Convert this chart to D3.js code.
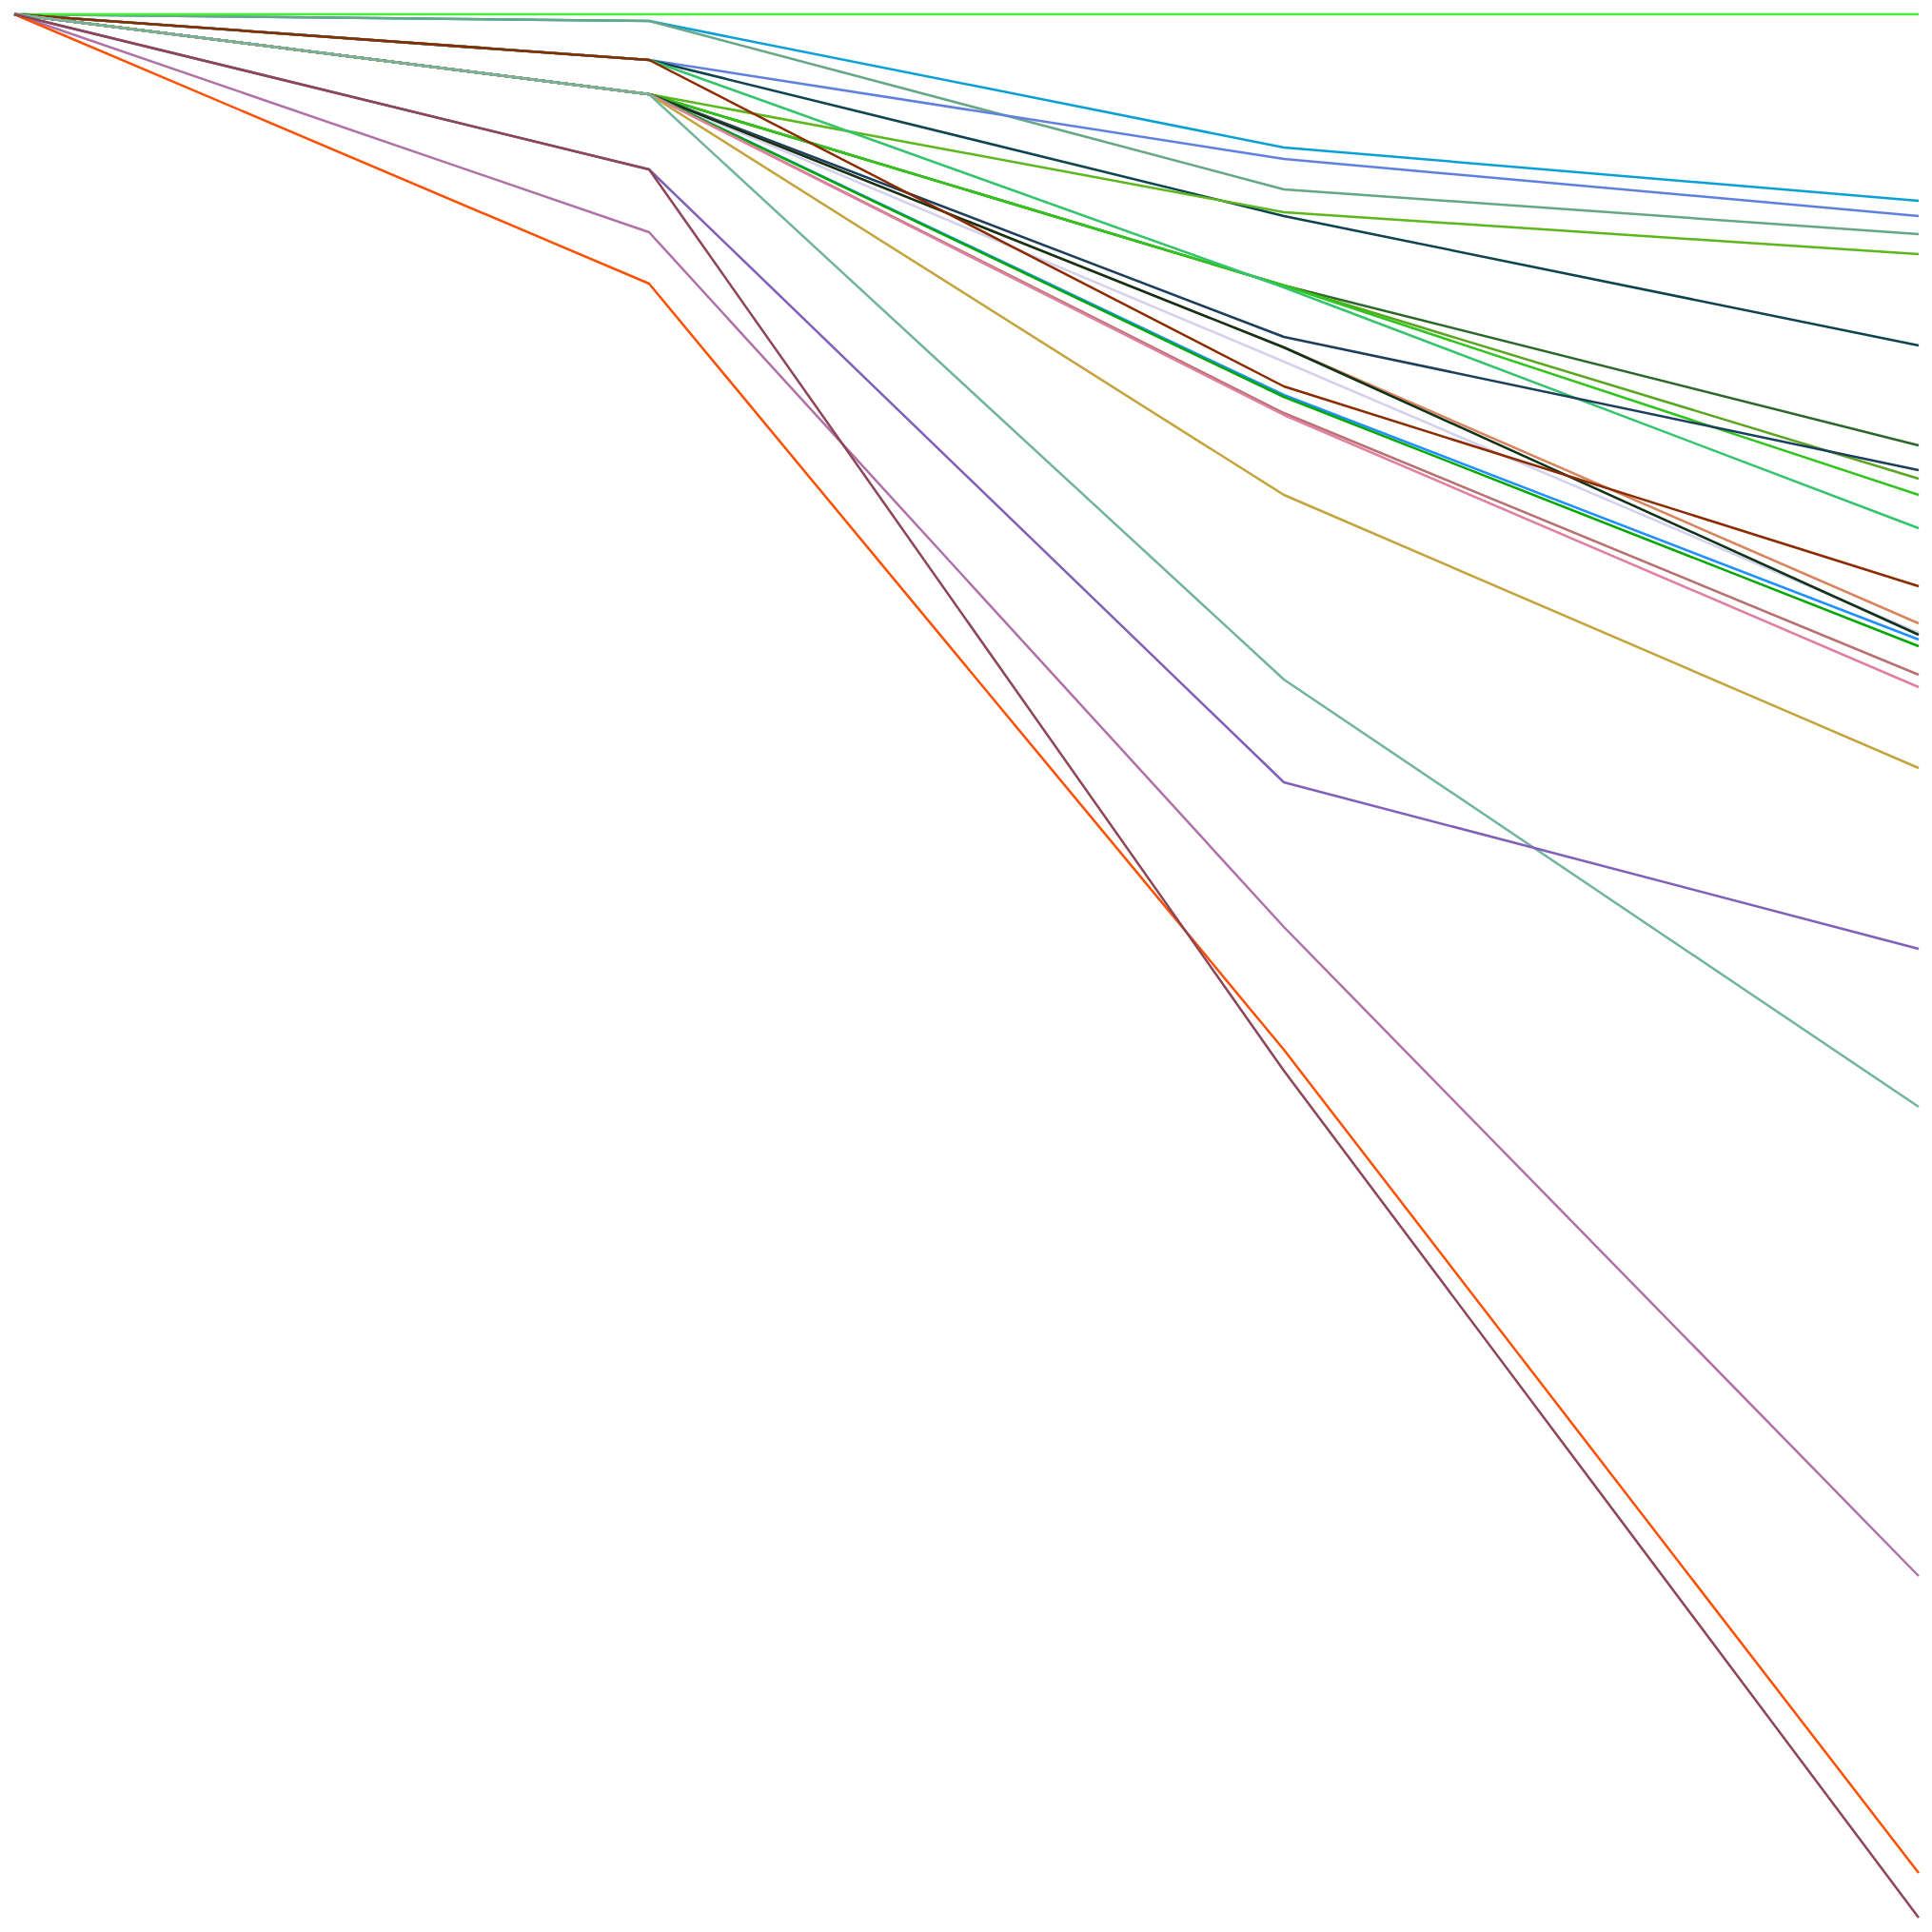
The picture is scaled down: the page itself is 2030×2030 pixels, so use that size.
<!DOCTYPE html>
<html>
<head>
<meta charset="utf-8">
<script src="https://cdn.jsdelivr.net/npm/d3@7"></script>
<style>
  html, body { margin: 0; padding: 0; background: #ffffff; }
  svg { display: block; }
</style>
</head>
<body>
<div id="chart"></div>
<script>
// Steps (x positions)
const steps = [0, 1, 2, 3];

// Series names, drawn in this order (later = on top)
const seriesNames = [
  "cyan", "seaGreen", "green", "royalBlue", "darkTeal", "yellowGreen",
  "darkGreen", "olive", "green2", "medSeaGreen", "darkSlate",
  "lavender", "sienna", "black", "darkRed", "dodger", "green3",
  "rosy", "pink", "goldenrod", "aquamarine", "purple", "orchid",
  "orangeRed", "maroon"
];

// Values per series (percent change), one per step
const cyan        = [0, -0.35, -7.0, -9.8];
const seaGreen    = [0, -0.35, -9.2, -11.55];
const green       = [0, 0, 0, 0];
const royalBlue   = [0, -2.4, -7.6, -10.6];
const darkTeal    = [0, -2.4, -10.6, -17.4];
const yellowGreen = [0, -4.2, -10.4, -12.6];
const darkGreen   = [0, -4.2, -14.25, -22.65];
const olive       = [0, -4.2, -14.25, -24.4];
const green2      = [0, -4.2, -14.25, -25.25];
const medSeaGreen = [0, -2.4, -14.35, -27.0];
const darkSlate   = [0, -4.2, -16.95, -23.95];
const lavender    = [0, -4.2, -18.25, -32.5];
const sienna      = [0, -4.2, -17.5, -32.0];
const black       = [0, -4.2, -17.5, -32.6];
const darkRed     = [0, -2.4, -19.55, -30.05];
const dodger      = [0, -4.2, -20.0, -32.85];
const green3      = [0, -4.2, -20.1, -33.2];
const rosy        = [0, -4.2, -20.95, -34.7];
const pink        = [0, -4.2, -21.05, -35.35];
const goldenrod   = [0, -4.2, -25.25, -39.6];
const aquamarine  = [0, -4.2, -34.95, -57.4];
const purple      = [0, -8.15, -40.35, -49.1];
const orchid      = [0, -11.45, -47.95, -82.05];
const orangeRed   = [0, -14.15, -54.4, -97.65];
const maroon      = [0, -8.15, -55.5, -100];

const seriesValues = {
  cyan, seaGreen, green, royalBlue, darkTeal, yellowGreen, darkGreen, olive,
  green2, medSeaGreen, darkSlate, lavender, sienna, black, darkRed, dodger,
  green3, rosy, pink, goldenrod, aquamarine, purple, orchid, orangeRed, maroon
};

const seriesColors = {
  cyan: "#08a0d6", seaGreen: "#66a884", green: "#44ee33", royalBlue: "#6080e0",
  darkTeal: "#0e4450", yellowGreen: "#5cb81c", darkGreen: "#2a682a",
  olive: "#5aa620", green2: "#30c41c", medSeaGreen: "#34c46c",
  darkSlate: "#1b3f5c", lavender: "#d2d2ee", sienna: "#d8845c", black: "#0f3218",
  darkRed: "#8c2a00", dodger: "#1e90ff", green3: "#00a800", rosy: "#b87070",
  pink: "#e080a0", goldenrod: "#c4a43c", aquamarine: "#72b4a0",
  purple: "#8060b8", orchid: "#b070a8", orangeRed: "#ff5000", maroon: "#8c4658"
};

const W = 2030, H = 2030;
const svg = d3.select("#chart").append("svg")
  .attr("width", W).attr("height", H);

const x = d3.scaleLinear().domain([0, 3]).range([15, 2016]);
const y = d3.scaleLinear().domain([0, -100]).range([15, 2015]);

const line = d3.line()
  .x((d, i) => x(steps[i]))
  .y(d => y(d));

svg.append("g")
  .selectAll("path")
  .data(seriesNames)
  .join("path")
  .attr("d", n => line(seriesValues[n]))
  .attr("fill", "none")
  .attr("stroke", n => seriesColors[n])
  .attr("stroke-width", 2.5)
  .attr("stroke-linejoin", "round");
</script>
</body>
</html>
